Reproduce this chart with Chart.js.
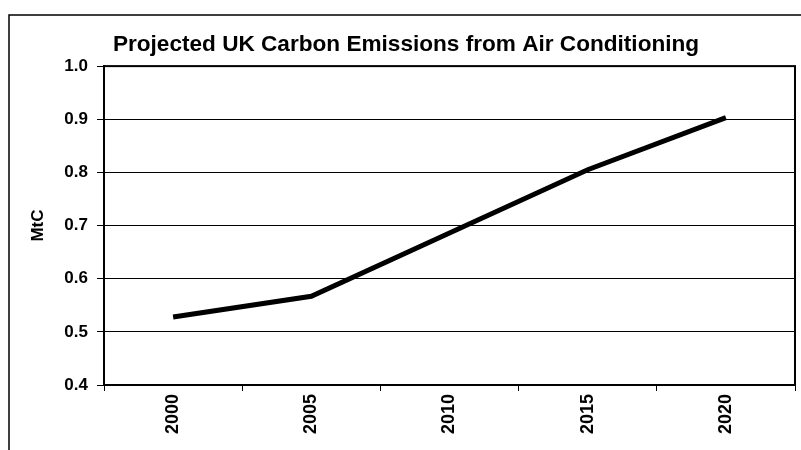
<!DOCTYPE html>
<html>
<head>
<meta charset="utf-8">
<script src="https://cdn.jsdelivr.net/npm/chart.js@4.4.1/dist/chart.umd.min.js"></script>
<style>
  html, body { margin: 0; padding: 0; background: #fff; }
  #wrap { width: 801px; height: 450px; }
</style>
</head>
<body>
<div id="wrap"><canvas id="myChart" width="801" height="450"></canvas></div>
<script>
// data
const years = ['2000', '2005', '2010', '2015', '2020'];
const emissions = [0.528, 0.567, 0.686, 0.805, 0.903]; // MtC
const yTicks = [0.4, 0.5, 0.6, 0.7, 0.8, 0.9, 1.0];

const FONT = "'Liberation Sans', Arial, sans-serif";

// outer frame + full border round the plot area
const frames = {
    id: 'frames',
    afterDraw(chart) {
        const c = chart.ctx;
        const a = chart.chartArea;
        c.save();
        c.strokeStyle = '#000';
        c.lineWidth = 1.5;
        c.strokeRect(9, 15, 820, 460);
        c.lineWidth = 2;
        c.strokeRect(a.left, a.top, a.right - a.left, a.bottom - a.top);
        c.restore();
    }
};

document.addEventListener('DOMContentLoaded', function() {
    const ctx = document.getElementById('myChart');

    new Chart(ctx, {
        type: 'line',
        data: {
            labels: years,
            datasets: [{
                label: 'MtC',
                data: emissions,
                borderColor: '#000',
                borderWidth: 5,
                pointRadius: 0,
                tension: 0,
                fill: false
            }]
        },
        options: {
            responsive: false,
            animation: false,
            layout: { padding: { top: 20, left: 17, right: 6, bottom: 0 } },
            plugins: {
                legend: { display: false },
                tooltip: { enabled: false },
                title: {
                    display: true,
                    text: 'Projected UK Carbon Emissions from Air Conditioning',
                    color: '#000',
                    font: { family: FONT, size: 22.6, weight: 'bold' },
                    padding: { top: 11, bottom: 8 }
                }
            },
            scales: {
                x: {
                    offset: true,
                    grid: {
                        offset: true,
                        drawOnChartArea: false,
                        drawTicks: true,
                        tickLength: 6,
                        color: '#000'
                    },
                    border: { display: true, color: '#000', width: 2 },
                    ticks: {
                        color: '#000',
                        font: { family: FONT, size: 18, weight: 'bold' },
                        maxRotation: 90,
                        minRotation: 90,
                        padding: 3
                    },
                    afterFit(scale) { scale.height = 65; }
                },
                y: {
                    min: 0.4,
                    max: 1.0,
                    afterBuildTicks(scale) {
                        scale.ticks = yTicks.map(v => ({ value: v }));
                    },
                    grid: {
                        color: '#000',
                        lineWidth: 1,
                        tickLength: 7
                    },
                    border: { display: true, color: '#000', width: 2 },
                    ticks: {
                        color: '#000',
                        font: { family: FONT, size: 17, weight: 'bold' },
                        padding: 9,
                        callback: v => Number(v).toFixed(1)
                    },
                    title: {
                        display: true,
                        text: 'MtC',
                        color: '#000',
                        font: { family: FONT, size: 17, weight: 'bold' },
                        padding: { top: 11, bottom: 0 }
                    },
                    afterFit(scale) { scale.width = 87; }
                }
            }
        },
        plugins: [frames]
    });
});
</script>
</body>
</html>
